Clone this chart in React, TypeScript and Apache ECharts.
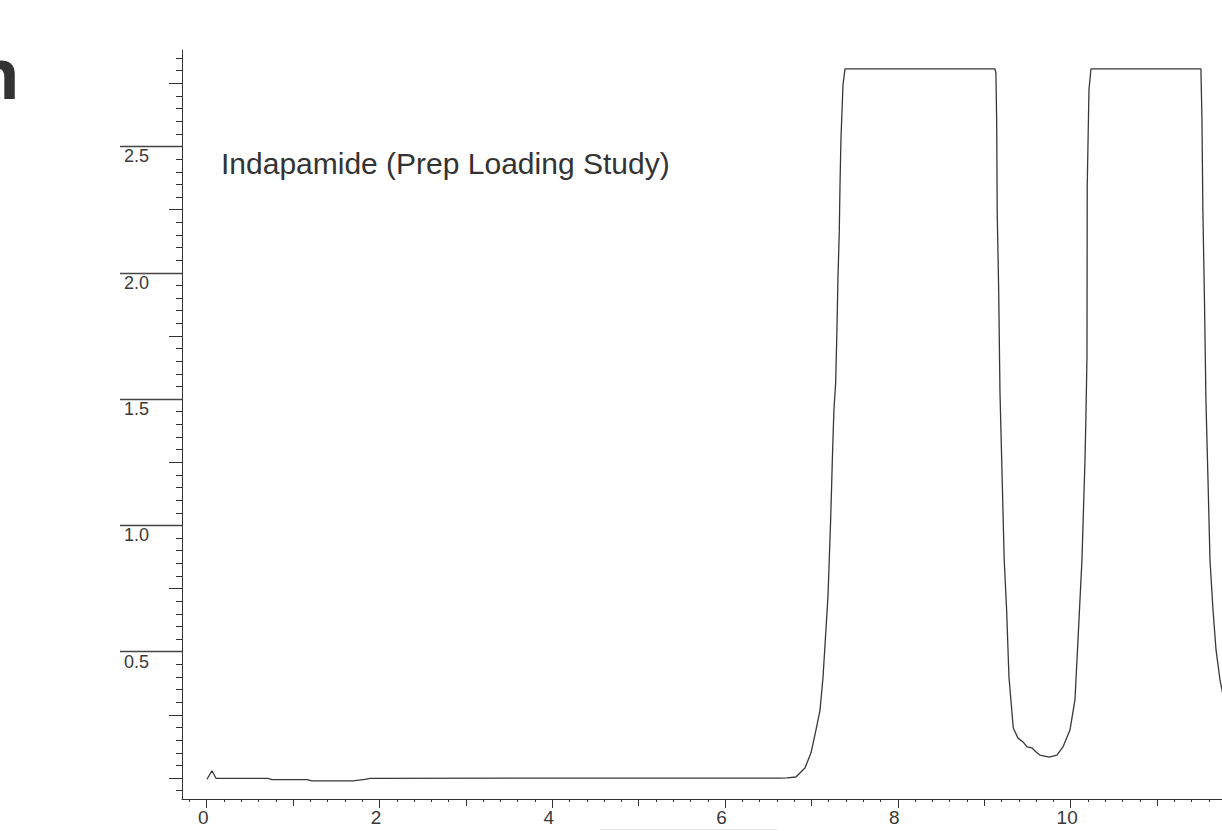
import React, { useEffect, useRef } from "react";
import * as echarts from "echarts";

// Chromatogram trace: [time (min), absorbance (AU)]
const traceTime = [
  0.003, 0.061, 0.108, 0.709, 0.756, 1.161, 1.219, 1.693, 1.832, 1.89,
  6.635, 6.716, 6.82, 6.925, 6.994, 7.052, 7.099, 7.134, 7.191, 7.222,
  7.245, 7.26, 7.28, 7.295, 7.307, 7.322, 7.33, 7.341, 7.365, 7.388,
  9.124, 9.135, 9.144, 9.15, 9.167, 9.182, 9.205, 9.231, 9.259, 9.286,
  9.336, 9.391, 9.449, 9.495, 9.553, 9.6, 9.644, 9.749, 9.841, 9.911,
  9.992, 10.05, 10.085, 10.131, 10.166, 10.177, 10.189, 10.192, 10.212, 10.235,
  11.508, 11.52, 11.531, 11.549, 11.566, 11.59, 11.613, 11.648, 11.683, 11.729, 11.775,
];
const traceValue = [
  -0.005, 0.029, -0.001, -0.001, -0.006, -0.006, -0.011, -0.011, -0.005, -0.001,
  0.0, 0.001, 0.004, 0.04, 0.099, 0.19, 0.269, 0.4, 0.717, 1.021,
  1.298, 1.457, 1.564, 1.774, 1.983, 2.162, 2.34, 2.526, 2.743, 2.807,
  2.807, 2.791, 2.597, 2.241, 1.932, 1.528, 1.219, 0.863, 0.665, 0.4,
  0.198, 0.158, 0.143, 0.123, 0.119, 0.103, 0.091, 0.083, 0.091, 0.123,
  0.19, 0.309, 0.546, 0.863, 1.259, 1.429, 1.667, 2.34, 2.724, 2.807,
  2.807, 2.605, 2.241, 1.892, 1.496, 1.18, 0.863, 0.665, 0.507, 0.388, 0.309,
];

const xLabelTicks = [0, 2, 4, 6, 8, 10];
const xMediumTicks = [1, 3, 5, 7, 9, 11];
const yLabelTicks = [0.5, 1.0, 1.5, 2.0, 2.5];
const yMediumTicks = [0, 0.25, 0.75, 1.25, 1.75, 2.25, 2.75];

const titleText = "Indapamide (Prep Loading Study)";
const headingFragment = "n";

const X_MIN = -0.286;
const X_MAX = 11.752;
const Y_MIN = -0.083;
const Y_MAX = 2.882;

function steps(from: number, to: number, step: number): number[] {
  const out: number[] = [];
  const n = Math.round((to - from) / step);
  for (let i = 0; i <= n; i++) out.push(Math.round((from + i * step) * 1000) / 1000);
  return out;
}

const xMinorTicks = steps(-0.2, 11.6, 0.2);
const yMinorTicks = steps(-0.05, 2.85, 0.05);

const AXIS_COLOR = "#333333";
const FONT = "'Liberation Sans', Arial, sans-serif";

export default function App() {
  const ref = useRef<HTMLDivElement>(null);

  useEffect(() => {
    if (!ref.current) return;
    const chart = echarts.init(ref.current, undefined, { renderer: "svg" });

    const baseX = {
      type: "value" as const,
      min: X_MIN,
      max: X_MAX,
      position: "bottom" as const,
      splitLine: { show: false },
    };
    const baseY = {
      type: "value" as const,
      min: Y_MIN,
      max: Y_MAX,
      position: "left" as const,
      splitLine: { show: false },
    };

    chart.setOption({
      animation: false,
      backgroundColor: "#ffffff",
      grid: { left: 182, right: 0, top: 50, bottom: 32, containLabel: false },
      xAxis: [
        {
          ...baseX,
          axisLine: { show: true, onZero: false, lineStyle: { color: AXIS_COLOR, width: 1 } },
          axisTick: {
            show: true,
            length: 3,
            customValues: xMinorTicks,
            lineStyle: { color: AXIS_COLOR, width: 1 },
          },
          axisLabel: { show: false },
        },
        {
          ...baseX,
          axisLine: { show: false, onZero: false },
          axisTick: {
            show: true,
            length: 7,
            customValues: xMediumTicks,
            lineStyle: { color: AXIS_COLOR, width: 1 },
          },
          axisLabel: { show: false },
        },
        {
          ...baseX,
          axisLine: { show: false, onZero: false },
          axisTick: {
            show: true,
            length: 9,
            customValues: xLabelTicks,
            lineStyle: { color: AXIS_COLOR, width: 1 },
          },
          axisLabel: {
            show: true,
            customValues: xLabelTicks,
            margin: 9,
            fontSize: 19,
            fontFamily: FONT,
            color: "#3a3a3a",
            padding: [0, 7, 0, 0],
            formatter: (v: number) => String(v),
          },
        },
      ],
      yAxis: [
        {
          ...baseY,
          axisLine: { show: true, onZero: false, lineStyle: { color: AXIS_COLOR, width: 1 } },
          axisTick: {
            show: true,
            length: 6,
            customValues: yMinorTicks,
            lineStyle: { color: AXIS_COLOR, width: 1 },
          },
          axisLabel: { show: false },
        },
        {
          ...baseY,
          axisLine: { show: false, onZero: false },
          axisTick: {
            show: true,
            length: 13,
            customValues: yMediumTicks,
            lineStyle: { color: AXIS_COLOR, width: 1 },
          },
          axisLabel: { show: false },
        },
        {
          ...baseY,
          axisLine: { show: false, onZero: false },
          axisTick: {
            show: true,
            length: 62,
            customValues: yLabelTicks,
            lineStyle: { color: "#444444", width: 1.3 },
          },
          axisLabel: {
            show: true,
            customValues: yLabelTicks,
            align: "left",
            verticalAlign: "top",
            margin: 58,
            fontSize: 18,
            fontFamily: FONT,
            color: "#3a3a3a",
            padding: [1, 0, 0, 0],
            formatter: (v: number) => v.toFixed(1),
          },
        },
      ],
      series: [
        {
          type: "line",
          xAxisIndex: 0,
          yAxisIndex: 0,
          showSymbol: false,
          symbol: "none",
          clip: true,
          lineStyle: { color: "#383838", width: 1.3 },
          data: traceTime.map((t, i) => [t, traceValue[i]]),
        },
      ],
      graphic: [
        {
          type: "text",
          left: 221,
          top: 148,
          style: {
            text: titleText,
            fontSize: 30,
            fontFamily: FONT,
            fill: "#333333",
          },
        },
        {
          type: "text",
          x: 20,
          y: 72,
          style: {
            text: headingFragment,
            fontSize: 70,
            fontWeight: "bold",
            fontFamily: "'Open Sans', 'Noto Sans', sans-serif",
            fill: "#333333",
            align: "right",
            verticalAlign: "middle",
          },
        },
        {
          type: "line",
          shape: { x1: 600, y1: 829.5, x2: 777, y2: 829.5 },
          style: { stroke: "#e6e6e6", lineWidth: 1 },
        },
      ],
    });

    return () => chart.dispose();
  }, []);

  return (
    <div
      ref={ref}
      style={{ position: "fixed", left: 0, top: 0, width: 1222, height: 831 }}
    />
  );
}
